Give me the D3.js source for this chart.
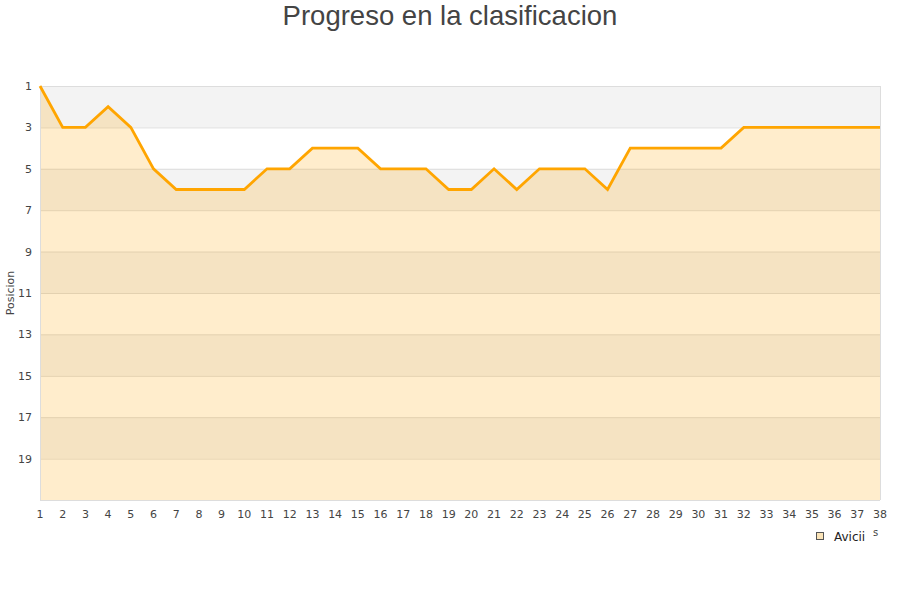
<!DOCTYPE html>
<html><head><meta charset="utf-8">
<script src="https://cdn.jsdelivr.net/npm/d3@7"></script>
<style>body{margin:0;background:#fff}</style>
</head><body>
<svg id="c" width="900" height="600"></svg>
<script>
const jornadas = d3.range(1, 39);
const posiciones = [1,3,3,2,3,5,6,6,6,6,5,5,4,4,4,5,5,5,6,6,5,6,5,5,5,6,4,4,4,4,4,3,3,3,3,3,3,3];
const yTicks = [1,3,5,7,9,11,13,15,17,19];
const serie = "Avicii";
const titulo = "Progreso en la clasificacion";

const svg = d3.select("#c");
const m = {l:40, r:880, t:86, b:500};
const x = d3.scaleLinear().domain([1,38]).range([m.l, m.r]);
const y = d3.scaleLinear().domain([1,21]).range([m.t, m.b]);

// bands
const bands = d3.range(1, 21, 2);
svg.selectAll("rect.band").data(bands).enter().append("rect")
  .attr("x", m.l).attr("width", m.r - m.l)
  .attr("y", d => y(d)).attr("height", d => y(d+2) - y(d))
  .attr("fill", (d,i) => i % 2 === 0 ? "#f3f3f3" : "#ffffff");

// grid
svg.selectAll("line.grid").data(yTicks.concat([21])).enter().append("line")
  .attr("x1", m.l).attr("x2", m.r)
  .attr("y1", d => y(d)+0.5).attr("y2", d => y(d)+0.5)
  .attr("stroke", "#dddddd").attr("stroke-width", 1);

// area
const data = jornadas.map((j,i) => ({j, p: posiciones[i]}));
svg.append("path").datum(data)
  .attr("d", d3.area().x(d => x(d.j)).y0(y(21)).y1(d => y(d.p)))
  .attr("fill", "#ffa500").attr("fill-opacity", 0.2);

// border
svg.append("line").attr("x1", m.l+0.5).attr("x2", m.l+0.5).attr("y1", m.t).attr("y2", m.b).attr("stroke", "#dddddd");
svg.append("line").attr("x1", m.r+0.5).attr("x2", m.r+0.5).attr("y1", m.t).attr("y2", m.b).attr("stroke", "#dddddd");

// line
svg.append("path").datum(data)
  .attr("d", d3.line().x(d => x(d.j)).y(d => y(d.p)))
  .attr("fill", "none").attr("stroke", "#ffa500").attr("stroke-width", 2.8)
  .attr("stroke-linejoin", "miter");

// y ticks
svg.selectAll("text.yt").data(yTicks).enter().append("text")
  .attr("x", 32).attr("y", d => y(d)+4)
  .attr("text-anchor", "end")
  .attr("font-family", "DejaVu Sans").attr("font-size", 11).attr("fill", "#444")
  .text(d => d);

// x ticks
svg.selectAll("text.xt").data(jornadas).enter().append("text")
  .attr("x", d => x(d)).attr("y", 518)
  .attr("text-anchor", "middle")
  .attr("font-family", "DejaVu Sans").attr("font-size", 11).attr("fill", "#444")
  .text(d => d);

// y label
svg.append("text").attr("transform", "translate(14,293) rotate(-90)")
  .attr("text-anchor", "middle")
  .attr("font-family", "DejaVu Sans").attr("font-size", 11).attr("fill", "#444")
  .text("Posicion");

// title
svg.append("text").attr("x", 450).attr("y", 25)
  .attr("text-anchor", "middle")
  .attr("font-family", "Liberation Sans, Arial").attr("font-size", 27.5).attr("fill", "#444")
  .text(titulo);

// legend
svg.append("rect").attr("x", 816.5).attr("y", 532.5).attr("width", 7).attr("height", 7)
  .attr("fill", "#fbe4b8").attr("stroke", "#555");
svg.append("text").attr("x", 834).attr("y", 541)
  .attr("font-family", "DejaVu Sans").attr("font-size", 12).attr("fill", "#222")
  .text(serie);
svg.append("text").attr("x", 873).attr("y", 536)
  .attr("font-family", "DejaVu Sans").attr("font-size", 10).attr("fill", "#444")
  .text("s");
</script>
</body></html>
